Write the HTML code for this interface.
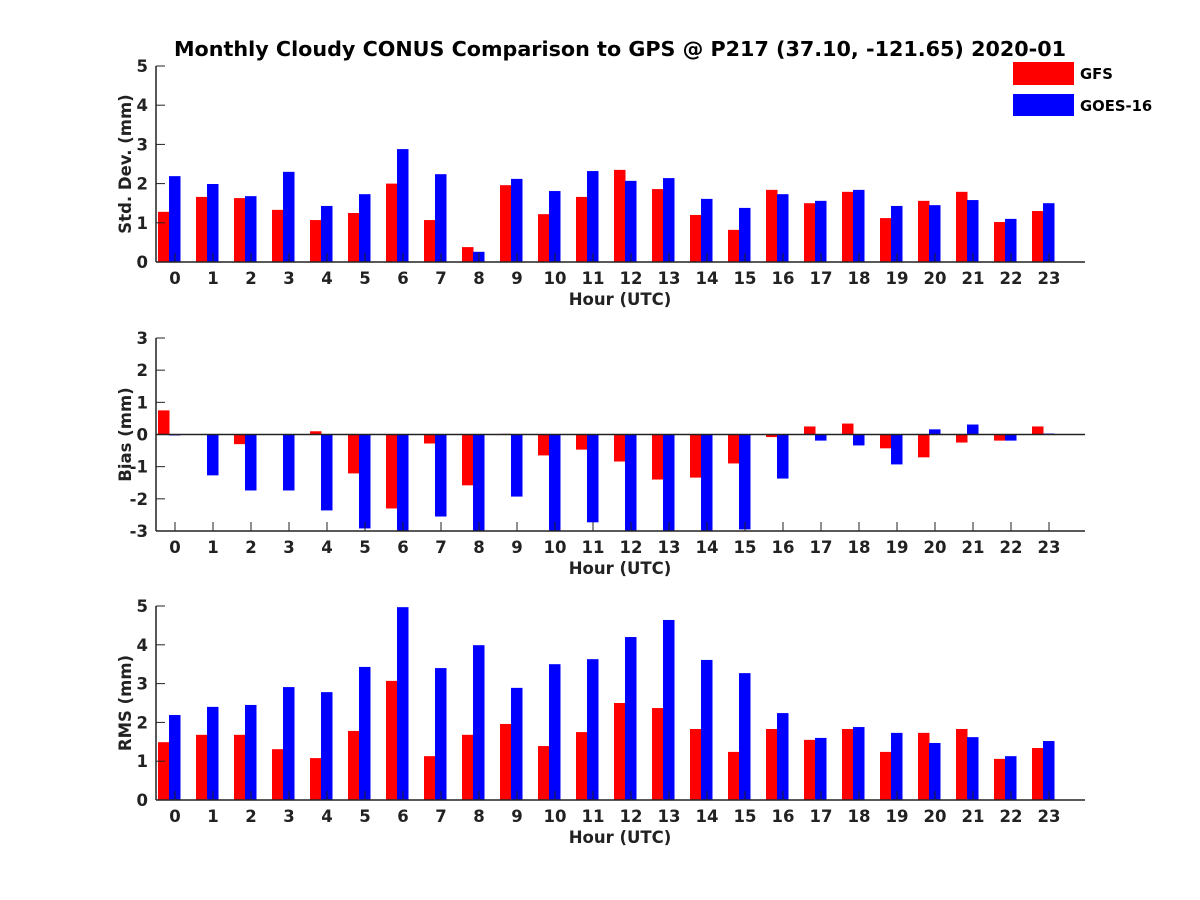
<!DOCTYPE html>
<html><head><meta charset="utf-8"><style>
body{margin:0;background:#fff}
svg{display:block;font-family:"DejaVu Sans","Liberation Sans",sans-serif;font-weight:bold}
</style></head><body>
<svg id="chart" width="1200" height="900" viewBox="0 0 1200 900">
<rect width="1200" height="900" fill="#fff"/>
<text x="620" y="56" text-anchor="middle" font-size="20.7">Monthly Cloudy CONUS Comparison to GPS @ P217 (37.10, -121.65) 2020-01</text>
<g>
<rect x="1013" y="62" width="61" height="23" fill="#ff0000"/>
<text x="1080" y="79" font-size="14.8">GFS</text>
<rect x="1013" y="94" width="61" height="22" fill="#0000ff"/>
<text x="1080" y="111" font-size="14.8">GOES-16</text>
</g>
</svg>
<script>
const hours=[0,1,2,3,4,5,6,7,8,9,10,11,12,13,14,15,16,17,18,19,20,21,22,23];
const stdGFS=[1.28,1.66,1.63,1.33,1.07,1.25,2.0,1.07,0.38,1.96,1.22,1.66,2.35,1.86,1.2,0.82,1.84,1.5,1.79,1.12,1.56,1.79,1.02,1.3];
const stdGOES=[2.19,1.99,1.68,2.3,1.43,1.73,2.88,2.24,0.26,2.12,1.81,2.32,2.07,2.14,1.61,1.38,1.73,1.56,1.84,1.43,1.45,1.58,1.1,1.5];
const biasGFS=[0.75,0,-0.3,0,0.1,-1.21,-2.3,-0.28,-1.58,0.02,-0.65,-0.47,-0.84,-1.4,-1.34,-0.9,-0.08,0.25,0.34,-0.43,-0.71,-0.25,-0.19,0.25];
const biasGOES=[-0.03,-1.27,-1.74,-1.74,-2.36,-2.92,-3.2,-2.55,-3.2,-1.93,-3.2,-2.73,-3.2,-3.2,-3.2,-2.95,-1.37,-0.19,-0.34,-0.93,0.16,0.31,-0.19,0.03];
const rmsGFS=[1.49,1.68,1.68,1.31,1.08,1.78,3.07,1.13,1.68,1.96,1.39,1.75,2.5,2.37,1.83,1.24,1.83,1.55,1.83,1.24,1.73,1.83,1.06,1.34];
const rmsGOES=[2.19,2.4,2.45,2.91,2.78,3.43,4.97,3.4,3.99,2.89,3.5,3.63,4.2,4.64,3.61,3.27,2.24,1.6,1.88,1.73,1.47,1.62,1.13,1.52];
const stdTicks=[0,1,2,3,4,5];
const biasTicks=[-3,-2,-1,0,1,2,3];
const rmsTicks=[0,1,2,3,4,5];

const svg=document.getElementById('chart');
const NS='http://www.w3.org/2000/svg';
function mk(tag,attrs,parent){const e=document.createElementNS(NS,tag);for(const k in attrs)e.setAttribute(k,attrs[k]);(parent||svg).appendChild(e);return e;}
const X0=156,X1=1085;
function xs(h){return 175+h*38;}

function panel(name,top,bottom,ymin,ymax,ticks,ylabel,gfs,goes,zeroLine){
  const g=mk('g',{});
  
  
  const ys=v=>bottom-(v-ymin)/(ymax-ymin)*(bottom-top);
  const clipId='clip-'+name;
  const cp=mk('clipPath',{id:clipId},g);
  mk('rect',{x:X0,y:top,width:X1-X0,height:bottom-top},cp);
  const bars=mk('g',{'clip-path':'url(#'+clipId+')'},g);
  const y0=ys(Math.max(ymin,0));
  hours.forEach((h,i)=>{
    const c=xs(h);
    [[gfs[i],c-17,'#ff0000','gfs'],[goes[i],c-6,'#0000ff','goes']].forEach(([v,x,col,s])=>{
      const yv=ys(v);
      const r=mk('rect',{x:x,y:Math.min(yv,y0),width:11.5,height:Math.abs(yv-y0),fill:col},bars);
      
      
    });
  });
  if(zeroLine) mk('line',{x1:X0,x2:X1,y1:ys(0),y2:ys(0),stroke:'#222','stroke-width':1.5},g);
  mk('line',{x1:X0,x2:X1,y1:bottom,y2:bottom,stroke:'#222','stroke-width':1.5},g);
  mk('line',{x1:X0,x2:X0,y1:top,y2:bottom,stroke:'#222','stroke-width':1.5},g);
  ticks.forEach(t=>{
    const y=ys(t);
    mk('line',{x1:X0,x2:X0+9,y1:y,y2:y,stroke:'#222','stroke-width':1},g);
    const tx=mk('text',{x:X0-8,y:y+6,'text-anchor':'end','font-size':16.5,fill:'#222'},g);
    tx.textContent=t;
    
    
  });
  hours.forEach(h=>{
    const x=xs(h);
    mk('line',{x1:x,x2:x,y1:bottom,y2:bottom-9,stroke:'#222','stroke-width':1},g);
    const tx=mk('text',{x:x,y:bottom+22,'text-anchor':'middle','font-size':16.5,fill:'#222'},g);
    tx.textContent=h;
    
    
  });
  const xl=mk('text',{x:620,y:bottom+43,'text-anchor':'middle','font-size':16.5,fill:'#222'},g);
  xl.textContent='Hour (UTC)';
  
  
  const cy=(top+bottom)/2;
  const yl=mk('text',{x:131,y:cy,'text-anchor':'middle','font-size':16.5,fill:'#222',transform:'rotate(-90 131 '+cy+')'},g);
  yl.textContent=ylabel;
  
  
}
panel('std',66,262,0,5,stdTicks,'Std. Dev. (mm)',stdGFS,stdGOES,false);
panel('bias',338,531,-3,3,biasTicks,'Bias (mm)',biasGFS,biasGOES,true);
panel('rms',606,800,0,5,rmsTicks,'RMS (mm)',rmsGFS,rmsGOES,false);
</script>
</body></html>
